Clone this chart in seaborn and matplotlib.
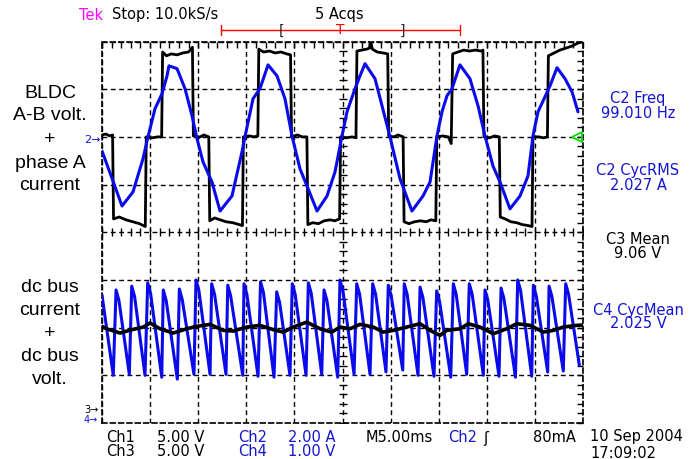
import matplotlib
matplotlib.use("Agg")
import matplotlib.pyplot as plt
from matplotlib.ticker import MultipleLocator
import numpy as np
import pandas as pd
import seaborn as sns

# scope settings
CH1_VDIV = 5.0   # V/div
CH2_ADIV = 2.0   # A/div
CH3_VDIV = 5.0   # V/div
CH4_VDIV = 1.0   # V/div
GND_12 = 2.0     # ground marker of ch1/ch2, divisions above centre
GND_34 = -3.83   # ground marker of ch3/ch4

# Ch1: BLDC A-B line voltage [V], time in ms
ch1_t = [0.0, 0.4, 0.8, 1.1, 1.2, 1.8, 2.5, 3.2, 3.9, 4.5,
         4.6, 5.2, 5.8, 6.2, 6.3, 6.7, 7.2, 7.8, 8.4, 9.0, 9.4,
         9.5, 10.0, 10.6, 11.1, 11.2, 11.7, 12.3, 12.9, 13.6, 14.6,
         14.7, 15.3, 15.8, 16.2, 16.3, 16.8, 17.4, 18.0, 18.6, 19.2, 19.6,
         19.7, 20.3, 20.8, 21.3, 21.4, 21.9, 22.5, 23.1, 23.7, 24.2, 24.7,
         24.8, 25.4, 26.0, 26.4, 26.5, 27.0, 27.5, 27.8, 27.9, 28.1, 28.6, 29.2, 29.7,
         29.8, 30.3, 30.8, 31.3, 31.4, 31.9, 32.5, 33.1, 33.7, 34.2, 34.7,
         34.8, 35.4, 36.0, 36.3, 36.45, 37.0, 37.6, 38.2, 38.8, 39.4, 39.6,
         39.7, 40.3, 40.8, 41.3, 41.4, 41.9, 42.5, 43.1, 43.7, 44.3, 44.7,
         44.8, 45.4, 45.9, 46.3, 46.4, 47.0, 47.6, 48.2, 48.8, 49.4, 50.0]
ch1_v = [0.2, 0.3, 0.1, 0.2, -8.6, -8.4, -8.7, -8.9, -9.1, -9.4,
         0.0, -0.1, 0.0, 0.0, 8.9, 8.5, 8.7, 8.6, 8.8, 8.9, 9.4,
         0.1, -0.1, 0.2, 0.0, -8.8, -8.5, -8.7, -8.9, -9.0, -9.3,
         0.0, 0.1, 0.0, 0.1, 9.2, 8.9, 9.0, 8.8, 8.9, 8.7, 8.6,
         0.0, 0.2, 0.0, 0.0, -9.2, -9.0, -9.1, -8.8, -8.7, -8.8, -8.6,
         0.0, -0.1, 0.0, -0.1, 9.0, 9.1, 9.2, 9.3, 10.1, 9.2, 8.9, 8.8, 8.7,
         0.1, 0.0, 0.2, 0.0, -8.9, -9.1, -8.9, -8.8, -8.9, -8.7, -8.8,
         0.0, 0.1, 0.0, -0.7, 8.7, 8.9, 9.1, 9.0, 9.1, 9.0, 9.1,
         0.0, -0.1, 0.1, 0.0, -8.4, -8.6, -8.9, -9.0, -9.2, -9.3, -9.4,
         0.0, 0.0, -0.1, 0.0, 8.5, 8.8, 9.1, 9.3, 9.5, 9.8, 10.0]

# Ch2: phase A current [A]
ch2_t = [0.0, 1.14, 2.08, 3.22, 4.26, 4.78, 5.51, 6.24, 6.76, 6.96,
         7.80, 8.63, 9.36, 9.88, 10.50, 11.43, 12.27, 13.51, 14.55, 14.86,
         15.70, 16.42, 17.26, 18.19, 19.02, 19.75, 20.58, 21.31, 22.35, 23.39,
         24.22, 24.95, 25.47, 26.30, 26.82, 27.34, 28.38, 29.11, 29.94, 30.98,
         32.22, 33.37, 34.10, 34.82, 35.34, 35.86, 36.38, 37.21, 38.25, 39.09,
         39.81, 40.64, 41.37, 42.41, 43.45, 44.28, 44.80, 45.32, 46.05, 46.57,
         47.30, 48.13, 48.86, 49.48]
ch2_a = [-0.59, -1.85, -2.90, -2.31, -0.92, 0.0, 1.18, 1.81, 2.56, 2.98,
         2.86, 2.02, 0.88, -0.08, -1.05, -1.89, -3.11, -2.48, -0.63, 0.0,
         1.60, 2.02, 3.02, 2.56, 1.60, 0.04, -1.34, -2.06, -3.11, -2.48,
         -1.47, 0.04, 1.05, 2.02, 2.56, 3.07, 2.44, 1.30, 0.0, -1.76,
         -3.11, -2.48, -1.89, 0.04, 1.05, 1.72, 2.02, 3.02, 2.44, 1.30,
         0.04, -1.22, -1.89, -3.02, -2.48, -1.64, 0.04, 1.05, 1.68, 2.14,
         2.90, 2.44, 1.89, 1.05]

# Ch3: dc bus voltage [V]
ch3_t = [0.0, 0.49, 1.87, 3.09, 4.29, 4.99, 6.03, 7.41, 8.80, 9.84,
         11.23, 12.61, 13.65, 15.04, 16.42, 17.81, 18.85, 19.89, 21.28, 22.66,
         23.88, 24.74, 25.78, 26.82, 28.20, 29.24, 30.28, 31.67, 33.06, 34.10,
         35.14, 35.83, 37.21, 38.08, 39.29, 40.68, 42.07, 43.11, 44.49, 45.88,
         46.92, 47.95, 49.35, 50.0]
ch3_v = [9.28, 9.03, 8.58, 8.93, 9.21, 9.63, 9.03, 8.58, 9.03, 9.28,
         9.49, 8.86, 8.79, 9.21, 9.39, 8.93, 8.68, 9.21, 9.73, 9.03,
         8.68, 9.21, 9.03, 9.49, 9.21, 8.68, 8.86, 9.21, 9.56, 8.86,
         8.34, 8.86, 9.03, 9.56, 9.21, 8.51, 9.03, 9.56, 9.39, 8.68,
         8.86, 9.21, 9.39, 9.42]

# Ch4: dc bus current sensor [V] (trough, peak, shoulder for each pulse)
ch4_t = [0.0,
         1.17, 1.46, 1.76, 2.84, 3.09, 3.39, 4.47, 4.75, 5.05,
         6.21, 6.37, 6.67, 7.83, 8.04, 8.34, 9.56, 9.77, 10.07,
         11.23, 11.40, 11.70, 12.89, 13.07, 13.37, 14.63, 14.76, 15.06,
         16.22, 16.48, 16.78, 17.88, 18.16, 18.46, 19.54, 19.78, 20.08,
         21.21, 21.45, 21.75, 22.84, 23.08, 23.38, 24.50, 24.74, 25.04,
         26.20, 26.48, 26.78, 27.86, 28.14, 28.44, 29.52, 29.76, 30.06,
         31.26, 31.42, 31.72, 32.85, 33.06, 33.36, 34.51, 34.79, 35.09,
         36.25, 36.52, 36.82, 37.91, 38.18, 38.48, 39.64, 39.81, 40.11,
         41.27, 41.48, 41.78, 42.98, 43.21, 43.51, 44.67, 44.84, 45.14,
         46.33, 46.47, 46.77, 47.95, 48.20, 48.50,
         49.62]
ch4_v = [2.51,
         0.83, 2.62, 2.40, 0.85, 2.70, 2.48, 0.83, 2.77, 2.55,
         0.79, 2.62, 2.40, 0.75, 2.64, 2.42, 0.85, 2.83, 2.61,
         0.85, 2.75, 2.53, 0.85, 2.72, 2.50, 0.83, 2.75, 2.53,
         0.81, 2.79, 2.57, 0.79, 2.58, 2.36, 0.83, 2.75, 2.53,
         0.83, 2.77, 2.55, 0.85, 2.62, 2.40, 0.79, 2.83, 2.61,
         0.85, 2.75, 2.53, 0.85, 2.75, 2.53, 0.90, 2.72, 2.50,
         0.94, 2.75, 2.53, 0.83, 2.68, 2.46, 0.81, 2.60, 2.38,
         0.79, 2.75, 2.53, 0.85, 2.75, 2.53, 0.83, 2.62, 2.40,
         0.81, 2.66, 2.44, 0.79, 2.83, 2.61, 0.81, 2.72, 2.50,
         0.90, 2.70, 2.48, 0.92, 2.75, 2.53,
         1.04]

BLUE = "#0a0aeb"
TXT_BLUE = "#1414d2"

sns.set_style("white")
plt.rcParams["lines.scale_dashes"] = False
plt.rcParams["font.family"] = ["DejaVu Sans"]

W, H = 697, 460
fig = plt.figure(figsize=(W / 100, H / 100), dpi=100)
ax = fig.add_axes([102 / W, 36 / H, 481 / W, 381.5 / H])

traces = [
    (ch1_t, np.array(ch1_v) / CH1_VDIV + GND_12, "black", 2.0),
    (ch2_t, np.array(ch2_a) / CH2_ADIV + GND_12, BLUE, 2.2),
    (ch4_t, np.array(ch4_v) / CH4_VDIV + GND_34, BLUE, 2.2),
    (ch3_t, np.array(ch3_v) / CH3_VDIV + GND_34, "black", 2.6),
]
for t, y, c, lw in traces:
    df = pd.DataFrame({"t": t, "div": y})
    sns.lineplot(data=df, x="t", y="div", ax=ax, color=c, lw=lw,
                 estimator=None, sort=False, zorder=3)

# graticule: 10 x 8 divisions, dashed
dash = (0, (3.5, 2.5))
ax.set_xlim(0, 50)
ax.set_ylim(-4, 4)
ax.set(xlabel=None, ylabel=None)
ax.xaxis.set_major_locator(MultipleLocator(5))
ax.yaxis.set_major_locator(MultipleLocator(1))
ax.xaxis.set_minor_locator(MultipleLocator(1))
ax.yaxis.set_minor_locator(MultipleLocator(0.2))
ax.tick_params(which="both", direction="in", length=4, width=1, color="black",
               top=True, right=True, labelbottom=False, labelleft=False)
ax.grid(True, which="major", color="black", linestyle=dash, linewidth=1)
for sp in ax.spines.values():
    sp.set_linestyle(dash)
    sp.set_linewidth(1.2)
    sp.set_color("black")
ax.plot(np.arange(0, 50.1, 1), np.zeros(51), ls="none", marker="|", ms=6,
        mew=1, color="black", zorder=2)
ax.plot(np.full(41, 25.0), np.arange(-4, 4.01, 0.2), ls="none", marker="_",
        ms=6, mew=1, color="black", zorder=2)

# trigger marker on the right edge
ax.plot([49.4], [GND_12], marker="<", ms=7, mfc="none", mec="#00dd00", mew=1.3,
        ls="none", clip_on=False, zorder=4)

# record-length bar above the graticule
trans = ax.get_xaxis_transform()
ax.plot([12.37, 37.2], [1.030, 1.030], color="red", lw=1, transform=trans, clip_on=False)
for xe in (12.37, 37.2):
    ax.plot([xe, xe], [1.016, 1.044], color="red", lw=1, transform=trans, clip_on=False)
ax.text(18.7, 1.030, "[", transform=trans, ha="center", va="center", fontsize=10)
ax.text(31.2, 1.030, "]", transform=trans, ha="center", va="center", fontsize=10)
ax.text(24.8, 1.032, "T", transform=trans, ha="center", va="center", fontsize=10, color="red")


def ftext(x, y, s, color="black", size=10.5, ha="left", family=None):
    fig.text(x / W, 1 - y / H, s, color=color, fontsize=size, ha=ha, va="center",
             family=family or ["DejaVu Sans"])


# header
ftext(79, 15, "Tek", color="#ff00ff")
ftext(112, 15, "Stop: 10.0kS/s")
ftext(315, 15, "5 Acqs")

# channel ground markers
ftext(84, 140, "2→", color=TXT_BLUE, size=8)
ftext(84, 410, "3→", size=7)
ftext(84, 420, "4→", color=TXT_BLUE, size=7)

# left-hand annotations
for y, s in zip([94, 116, 140, 163, 186], ["BLDC", "A-B volt.", "+", "phase A", "current"]):
    ftext(50, y, s, size=14, ha="center", family=["Liberation Sans"])
for y, s in zip([288, 311, 334, 357, 380], ["dc bus", "current", "+", "dc bus", "volt."]):
    ftext(50, y, s, size=14, ha="center", family=["Liberation Sans"])

# measurement readouts
meas = [(99, "C2 Freq", TXT_BLUE), (113, "99.010 Hz", TXT_BLUE),
        (171, "C2 CycRMS", TXT_BLUE), (185, "2.027 A", TXT_BLUE),
        (240, "C3 Mean", "black"), (254, "9.06 V", "black"),
        (310, "C4 CycMean", TXT_BLUE), (324, "2.025 V", TXT_BLUE)]
for y, s, c in meas:
    ftext(638, y, s, color=c, ha="center")

# bottom status lines
ftext(106, 438, "Ch1")
ftext(157, 438, "5.00 V")
ftext(238, 438, "Ch2", color=TXT_BLUE)
ftext(288, 438, "2.00 A", color=TXT_BLUE)
ftext(366, 438, "M5.00ms")
ftext(448, 438, "Ch2", color=TXT_BLUE)
ftext(483, 438, "ʃ")
ftext(533, 438, "80mA")
ftext(106, 452, "Ch3")
ftext(157, 452, "5.00 V")
ftext(238, 452, "Ch4", color=TXT_BLUE)
ftext(288, 452, "1.00 V", color=TXT_BLUE)
ftext(590, 437, "10 Sep 2004")
ftext(590, 454, "17:09:02")

fig.savefig("out.png", dpi=100)
plt.close(fig)
